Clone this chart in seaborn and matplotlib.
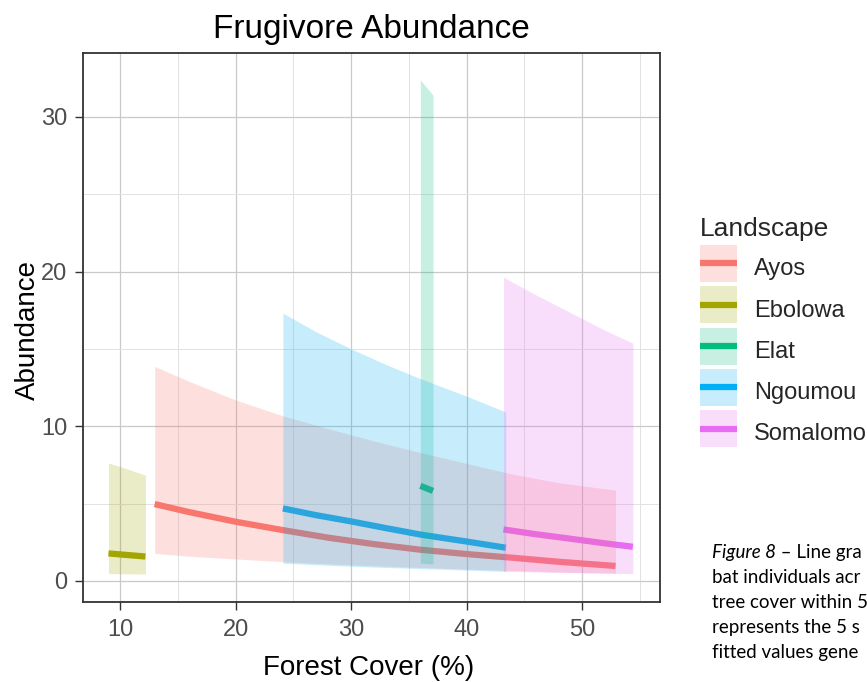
import matplotlib
matplotlib.use("Agg")
import matplotlib.pyplot as plt
from matplotlib.lines import Line2D
from matplotlib.patches import Rectangle
from matplotlib.legend_handler import HandlerBase
import pandas as pd
import seaborn as sns

# ---- data -----------------------------------------------------------------
landscapes = ["Ayos", "Ebolowa", "Elat", "Ngoumou", "Somalomo"]
colors = ["#F8766D", "#A3A500", "#00BF7D", "#00B0F6", "#E76BF3"]

ayos_cover = [13.0, 16.0, 20.0, 24.0, 28.0, 32.0, 36.0, 40.0, 44.0, 48.0, 52.9]
ayos_fit = [4.97, 4.45, 3.83, 3.30, 2.80, 2.38, 2.02, 1.74, 1.50, 1.24, 0.97]
ayos_low = [1.78, 1.60, 1.42, 1.25, 1.10, 0.98, 0.87, 0.77, 0.67, 0.58, 0.50]
ayos_up = [13.87, 12.90, 11.70, 10.70, 9.85, 9.05, 8.30, 7.60, 6.90, 6.35, 5.87]

ebolowa_cover = [9.0, 10.6, 12.2]
ebolowa_fit = [1.78, 1.68, 1.58]
ebolowa_low = [0.48, 0.46, 0.45]
ebolowa_up = [7.63, 7.25, 6.84]

elat_cover = [36.0, 37.1]
elat_fit = [6.15, 5.82]
elat_low = [1.15, 1.10]
elat_up = [32.40, 31.40]

ngoumou_cover = [24.1, 27.0, 30.0, 33.0, 36.0, 40.0, 43.4]
ngoumou_fit = [4.69, 4.25, 3.85, 3.42, 3.00, 2.55, 2.15]
ngoumou_low = [1.15, 1.05, 0.95, 0.87, 0.80, 0.70, 0.62]
ngoumou_up = [17.31, 16.10, 15.01, 14.00, 13.08, 11.95, 10.92]

somalomo_cover = [43.2, 46.0, 49.0, 52.0, 54.4]
somalomo_fit = [3.33, 3.02, 2.73, 2.43, 2.21]
somalomo_low = [0.62, 0.58, 0.54, 0.50, 0.47]
somalomo_up = [19.63, 18.50, 17.35, 16.20, 15.37]

x_ticks = [10, 20, 30, 40, 50]
y_ticks = [0, 10, 20, 30]

caption_label = "Figure 8"
caption_first = " \u2013 Line gra"
caption_rest = [
    "bat individuals acr",
    "tree cover within 5",
    "represents the 5 s",
    "fitted values gene",
]

# ---- tidy table -------------------------------------------------------------
series = {
    "Ayos": (ayos_cover, ayos_fit, ayos_low, ayos_up),
    "Ebolowa": (ebolowa_cover, ebolowa_fit, ebolowa_low, ebolowa_up),
    "Elat": (elat_cover, elat_fit, elat_low, elat_up),
    "Ngoumou": (ngoumou_cover, ngoumou_fit, ngoumou_low, ngoumou_up),
    "Somalomo": (somalomo_cover, somalomo_fit, somalomo_low, somalomo_up),
}
rows = []
for name, (cx, fy, lo, up) in series.items():
    for a, b, c, d in zip(cx, fy, lo, up):
        rows.append({"Landscape": name, "cover": a, "fit": b, "lower": c, "upper": d})
df = pd.DataFrame(rows)
palette = dict(zip(landscapes, colors))

# ---- style ------------------------------------------------------------------
sns.set_style("white")
plt.rcParams["font.family"] = ["Liberation Sans", "DejaVu Sans"]

W, H = 867, 682
fig = plt.figure(figsize=(W / 100, H / 100), dpi=100)
px_l, px_r, px_t, px_b = 82.7, 660.0, 53.0, 602.0
ax = fig.add_axes([px_l / W, 1 - px_b / H, (px_r - px_l) / W, (px_b - px_t) / H])

RIBBON_ALPHA = 0.22
LINE_W = 4.5

# fitted lines first, confidence ribbons layered on top
sns.lineplot(data=df, x="cover", y="fit", hue="Landscape", hue_order=landscapes,
             palette=palette, estimator=None, sort=True, linewidth=LINE_W,
             solid_capstyle="butt", legend=False, ax=ax, zorder=3)
for name in landscapes:
    sub = df[df["Landscape"] == name]
    ax.fill_between(sub["cover"], sub["lower"], sub["upper"], color=palette[name],
                    alpha=RIBBON_ALPHA, linewidth=0, zorder=4)

ax.set_xlim(6.77, 56.75)
ax.set_ylim(-1.36, 34.13)
ax.set_xticks(x_ticks)
ax.set_yticks(y_ticks)
ax.set_xticks([15, 25, 35, 45, 55], minor=True)
ax.set_yticks([5, 15, 25], minor=True)
ax.set_axisbelow(True)
ax.grid(which="major", color="#C9C9C9", linewidth=0.9)
ax.grid(which="minor", color="#E2E2E2", linewidth=0.7)
for sp in ax.spines.values():
    sp.set_visible(True)
    sp.set_color("#333333")
    sp.set_linewidth(1.3)
ax.tick_params(which="major", direction="out", length=6, width=1.0, color="#333333",
               labelsize=17, labelcolor="#4D4D4D", bottom=True, left=True)
ax.tick_params(axis="x", which="major", pad=6)
ax.tick_params(axis="y", which="major", pad=5)
ax.tick_params(which="minor", length=0)

ax.set_xlabel("Forest Cover (%)", fontsize=20, color="black", va="baseline")
ax.xaxis.set_label_coords((369 - px_l) / (px_r - px_l), -(675 - px_b) / (px_b - px_t))
ax.set_ylabel("Abundance", fontsize=20, color="black", va="baseline")
ax.yaxis.set_label_coords(-(px_l - 35) / (px_r - px_l), (px_b - 329.5) / (px_b - px_t))

fig.text(371 / W, 1 - 38.3 / H, "Frugivore Abundance", ha="center", va="baseline",
         fontsize=24, color="black")


# ---- legend: ribbon swatch with the fitted line across it --------------------
class RibbonKey(HandlerBase):
    def create_artists(self, legend, orig_handle, xdescent, ydescent, width, height,
                       fontsize, trans):
        col = orig_handle.get_color()
        d = 0.284 * fontsize
        k = 1.567 * fontsize
        box = Rectangle((-xdescent, -d), width, k, facecolor=col, alpha=RIBBON_ALPHA,
                        edgecolor="none", transform=trans)
        ym = -d + k / 2
        ln = Line2D([-xdescent, -xdescent + width], [ym, ym], color=col,
                    linewidth=LINE_W, solid_capstyle="butt", transform=trans)
        return [box, ln]


handles = [Line2D([], [], color=c) for c in colors]
leg = fig.legend(handles, landscapes, loc="upper left",
                 bbox_to_anchor=(700 / W, 1 - 217 / H), frameon=False,
                 borderpad=0, borderaxespad=0, fontsize=17, title="Landscape",
                 title_fontsize=19, handlelength=1.567, handleheight=1.567,
                 handletextpad=0.72, labelspacing=0.487, alignment="left",
                 handler_map={Line2D: RibbonKey()})

# ---- caption beside the chart -----------------------------------------------
cap_x = 711.7 / W
cap_size = 13.5
cap_family = ["Lato", "DejaVu Sans"]
t0 = fig.text(cap_x, 1 - 558.3 / H, caption_label, fontsize=cap_size, style="italic",
              family=cap_family, va="baseline", ha="left", color="black")
fig.canvas.draw()
fig.add_artist(plt.Annotation(caption_first, xy=(1, 0), xycoords=t0, ha="left",
                              va="bottom", fontsize=cap_size, family=cap_family,
                              color="black"))
for i, line in enumerate(caption_rest):
    fig.text(cap_x, 1 - (558.3 + 25 * (i + 1)) / H, line, fontsize=cap_size,
             family=cap_family, va="baseline", ha="left", color="black")

fig.savefig("out.png", dpi=100)
